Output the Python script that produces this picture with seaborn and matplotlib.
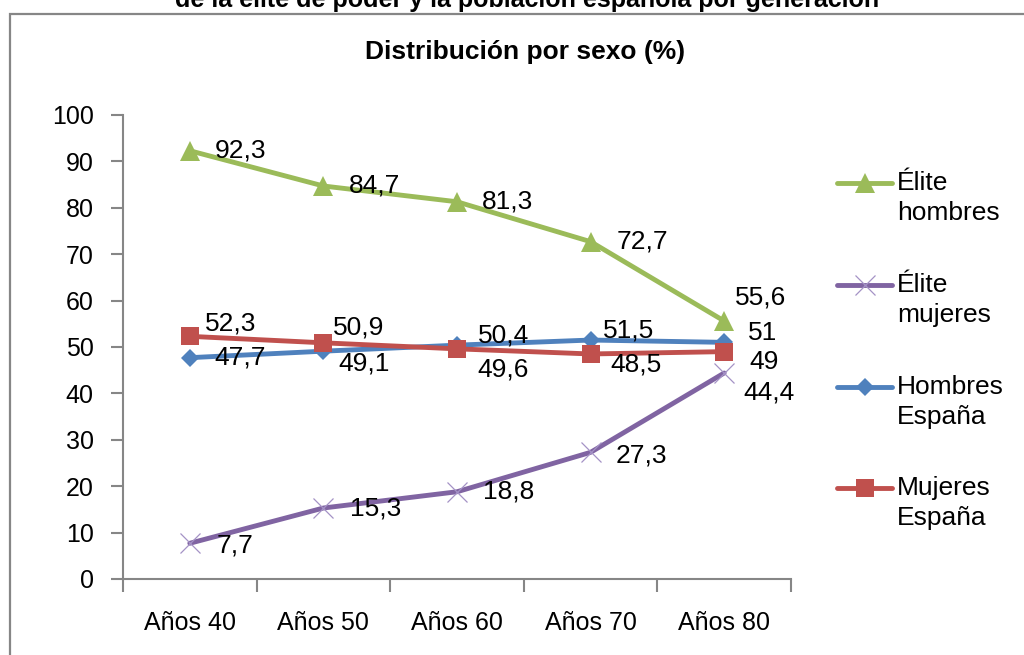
import matplotlib
matplotlib.use('Agg')
import matplotlib.pyplot as plt
import seaborn as sns
from matplotlib.lines import Line2D
from matplotlib.patches import Rectangle

# datos
categorias = ['Años 40', 'Años 50', 'Años 60', 'Años 70', 'Años 80']
elite_hombres = [92.3, 84.7, 81.3, 72.7, 55.6]
elite_mujeres = [7.7, 15.3, 18.8, 27.3, 44.4]
hombres_espana = [47.7, 49.1, 50.4, 51.5, 51]
mujeres_espana = [52.3, 50.9, 49.6, 48.5, 49]
nombres = [('Élite', 'hombres'), ('Élite', 'mujeres'), ('Hombres', 'España'), ('Mujeres', 'España')]
yticks = list(range(0, 101, 10))

sns.set_style('white')
plt.rcParams['font.family'] = ['Liberation Sans', 'DejaVu Sans']
plt.rcParams['text.color'] = 'black'

W, H = 1024, 655
fig = plt.figure(figsize=(W / 100, H / 100), dpi=100)
ax = fig.add_axes([123 / W, 1 - 579 / H, (791 - 123) / W, (579 - 115) / H])

gris = '#868686'
# estilo de cada serie: color, marcador, tamaño, borde
estilos = [
    ('#9BBB59', '^', 14, '#9BBB59', 0),
    ('#8064A2', 'x', 14, '#A492C6', 0.9),
    ('#4F81BD', 'D', 9, '#4F81BD', 0),
    ('#C0504D', 's', 13.5, '#C0504D', 0),
]
valores = [elite_hombres, elite_mujeres, hombres_espana, mujeres_espana]

# desplazamiento de las etiquetas en pixeles (dx, dy hacia abajo)
desp = [
    [(25, 0), (25, 0), (25, 0), (26, 0), (11, -24)],
    [(27, 2), (27, 0), (26, 0), (25, 3), (19, 20)],
    [(25, 0), (15, 12), (21, -10), (12, -10), (24, -9)],
    [(15, -13), (10, -15), (20, 21), (20, 11), (25, 10)],
]

for i, (vals, (col, mk, ms, mec, mew)) in enumerate(zip(valores, estilos)):
    sns.lineplot(x=categorias, y=vals, color=col, marker=mk, markersize=ms,
                 markeredgecolor=mec, markeredgewidth=mew, linewidth=3.5,
                 ax=ax, zorder=3 + i)
    for j, v in enumerate(vals):
        txt = f'{v:g}'.replace('.', ',')
        dx, dy = desp[i][j]
        ax.annotate(txt, (j, v), xytext=(dx, -dy), textcoords='offset pixels',
                    ha='left', va='center', fontsize=19, color='black', zorder=10)

ax.set_xlim(-0.5, 4.5)
ax.set_ylim(0, 100)
ax.set_yticks(yticks)
ax.set_xticks(range(len(categorias)))
ax.set_xticklabels(categorias)
ax.set_xticks([k - 0.5 for k in range(len(categorias) + 1)], minor=True)
ax.set_xlabel('')
ax.set_ylabel('')
for s in ['top', 'right']:
    ax.spines[s].set_visible(False)
for s in ['left', 'bottom']:
    ax.spines[s].set_color(gris)
    ax.spines[s].set_linewidth(1.5)
ax.tick_params(axis='y', left=True, length=9, width=1.5, color=gris, pad=12,
               labelsize=18, labelcolor='black')
ax.tick_params(axis='x', which='major', bottom=True, length=0, pad=23,
               labelsize=18, labelcolor='black')
ax.tick_params(axis='x', which='minor', bottom=True, length=9, width=1.5, color=gris)
ax.grid(False)

# leyenda
filas = [183, 285, 387, 488]
for (l1, l2), (col, mk, ms, mec, mew), y in zip(nombres, estilos, filas):
    yy = 1 - y / H
    fig.add_artist(Line2D([837 / W, 864.5 / W, 892 / W], [yy] * 3, color=col, lw=3.5,
                          marker=mk, markersize=ms, markevery=[1],
                          markeredgecolor=mec, markeredgewidth=mew))
    fig.text(897 / W, yy, l1, va='center', ha='left', fontsize=19)
    fig.text(897 / W, 1 - (y + 30) / H, l2, va='center', ha='left', fontsize=19)

# marco y títulos (el título superior queda cortado como en el original)
fig.add_artist(Rectangle((10 / W, -0.1), 1.2, 1 - 14 / H + 0.1, transform=fig.transFigure,
                         fill=False, edgecolor=gris, lw=1.6))
fig.text(527 / W, 1 - 7 / H, 'de la élite de poder y la población española por generación',
         ha='center', va='baseline', fontsize=18, fontweight='bold')
fig.text(525 / W, 1 - 52 / H, 'Distribución por sexo (%)', ha='center', va='center',
         fontsize=19, fontweight='bold')

fig.savefig('out.png', dpi=100)
